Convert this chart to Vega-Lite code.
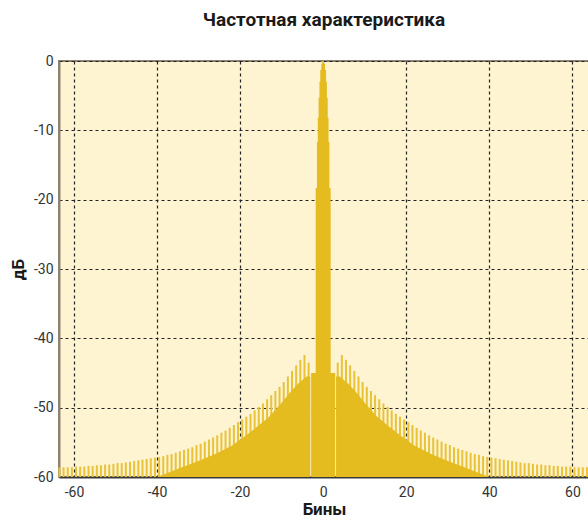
{
  "$schema": "https://vega.github.io/schema/vega-lite/v6.json",
  "width": 530,
  "height": 416,
  "autosize": "none",
  "padding": {"left": 59, "top": 61, "right": 0, "bottom": 44},
  "background": "white",
  "title": {
    "text": "Частотная характеристика",
    "font": "Roboto",
    "fontSize": 19,
    "fontWeight": "bold",
    "color": "#1a1a1a",
    "anchor": "middle",
    "offset": 24
  },
  "config": {
    "view": {"fill": "#FEF4D2", "stroke": "#8C8372", "strokeWidth": 2},
    "axis": {
      "labelFont": "Roboto",
      "titleFont": "Roboto",
      "labelFontSize": 14,
      "labelColor": "#333333",
      "titleFontSize": 17,
      "titleFontWeight": "bold",
      "titleColor": "#1a1a1a",
      "grid": true,
      "gridColor": "#222222",
      "gridDash": [3, 3],
      "gridWidth": 1.2,
      "gridOpacity": 1,
      "tickColor": "#2b2b2b",
      "tickSize": 0,
      "labelExpr": "datum.value < 0 ? '-' + abs(datum.value) : '' + datum.value"
    }
  },
  "datasets": {
    "spikes": [
      {"bin": -63.5, "db": -58.6}, {"bin": -62.5, "db": -58.6}, {"bin": -61.5, "db": -58.6}, {"bin": -60.5, "db": -58.6},
      {"bin": -59.5, "db": -58.5}, {"bin": -58.5, "db": -58.5}, {"bin": -57.5, "db": -58.5}, {"bin": -56.5, "db": -58.4},
      {"bin": -55.5, "db": -58.4}, {"bin": -54.5, "db": -58.3}, {"bin": -53.5, "db": -58.3}, {"bin": -52.5, "db": -58.2},
      {"bin": -51.5, "db": -58.2}, {"bin": -50.5, "db": -58.1}, {"bin": -49.5, "db": -58.0}, {"bin": -48.5, "db": -58.0},
      {"bin": -47.5, "db": -57.9}, {"bin": -46.5, "db": -57.8}, {"bin": -45.5, "db": -57.7}, {"bin": -44.5, "db": -57.6},
      {"bin": -43.5, "db": -57.5}, {"bin": -42.5, "db": -57.4}, {"bin": -41.5, "db": -57.3}, {"bin": -40.5, "db": -57.2},
      {"bin": -39.5, "db": -57.1}, {"bin": -38.5, "db": -57.0}, {"bin": -37.5, "db": -56.8}, {"bin": -36.5, "db": -56.7},
      {"bin": -35.5, "db": -56.5}, {"bin": -34.5, "db": -56.3}, {"bin": -33.5, "db": -56.1}, {"bin": -32.5, "db": -55.9},
      {"bin": -31.5, "db": -55.7}, {"bin": -30.5, "db": -55.4}, {"bin": -29.5, "db": -55.2}, {"bin": -28.5, "db": -54.9},
      {"bin": -27.5, "db": -54.6}, {"bin": -26.5, "db": -54.3}, {"bin": -25.5, "db": -54.0}, {"bin": -24.5, "db": -53.6},
      {"bin": -23.5, "db": -53.3}, {"bin": -22.5, "db": -52.9}, {"bin": -21.5, "db": -52.5}, {"bin": -20.5, "db": -52.1},
      {"bin": -19.5, "db": -51.7}, {"bin": -18.5, "db": -51.3}, {"bin": -17.5, "db": -50.9}, {"bin": -16.5, "db": -50.4},
      {"bin": -15.5, "db": -49.9}, {"bin": -14.5, "db": -49.4}, {"bin": -13.5, "db": -48.8}, {"bin": -12.5, "db": -48.2},
      {"bin": -11.5, "db": -47.6}, {"bin": -10.5, "db": -47.0}, {"bin": -9.5, "db": -46.3}, {"bin": -8.5, "db": -45.5},
      {"bin": -7.5, "db": -44.7}, {"bin": -6.5, "db": -43.9}, {"bin": -5.5, "db": -43.1}, {"bin": -4.5, "db": -42.4},
      {"bin": -3.5, "db": -43.5},
      {"bin": 3.5, "db": -43.5},
      {"bin": 4.5, "db": -42.4}, {"bin": 5.5, "db": -43.1}, {"bin": 6.5, "db": -43.9}, {"bin": 7.5, "db": -44.7},
      {"bin": 8.5, "db": -45.5}, {"bin": 9.5, "db": -46.3}, {"bin": 10.5, "db": -47.0}, {"bin": 11.5, "db": -47.6},
      {"bin": 12.5, "db": -48.2}, {"bin": 13.5, "db": -48.8}, {"bin": 14.5, "db": -49.4}, {"bin": 15.5, "db": -49.9},
      {"bin": 16.5, "db": -50.4}, {"bin": 17.5, "db": -50.9}, {"bin": 18.5, "db": -51.3}, {"bin": 19.5, "db": -51.7},
      {"bin": 20.5, "db": -52.1}, {"bin": 21.5, "db": -52.5}, {"bin": 22.5, "db": -52.9}, {"bin": 23.5, "db": -53.3},
      {"bin": 24.5, "db": -53.6}, {"bin": 25.5, "db": -54.0}, {"bin": 26.5, "db": -54.3}, {"bin": 27.5, "db": -54.6},
      {"bin": 28.5, "db": -54.9}, {"bin": 29.5, "db": -55.2}, {"bin": 30.5, "db": -55.4}, {"bin": 31.5, "db": -55.7},
      {"bin": 32.5, "db": -55.9}, {"bin": 33.5, "db": -56.1}, {"bin": 34.5, "db": -56.3}, {"bin": 35.5, "db": -56.5},
      {"bin": 36.5, "db": -56.7}, {"bin": 37.5, "db": -56.8}, {"bin": 38.5, "db": -57.0}, {"bin": 39.5, "db": -57.1},
      {"bin": 40.5, "db": -57.2}, {"bin": 41.5, "db": -57.3}, {"bin": 42.5, "db": -57.4}, {"bin": 43.5, "db": -57.5},
      {"bin": 44.5, "db": -57.6}, {"bin": 45.5, "db": -57.7}, {"bin": 46.5, "db": -57.8}, {"bin": 47.5, "db": -57.9},
      {"bin": 48.5, "db": -58.0}, {"bin": 49.5, "db": -58.0}, {"bin": 50.5, "db": -58.1}, {"bin": 51.5, "db": -58.2},
      {"bin": 52.5, "db": -58.2}, {"bin": 53.5, "db": -58.3}, {"bin": 54.5, "db": -58.3}, {"bin": 55.5, "db": -58.4},
      {"bin": 56.5, "db": -58.4}, {"bin": 57.5, "db": -58.5}, {"bin": 58.5, "db": -58.5}, {"bin": 59.5, "db": -58.5},
      {"bin": 60.5, "db": -58.6}, {"bin": 61.5, "db": -58.6}, {"bin": 62.5, "db": -58.6}, {"bin": 63.5, "db": -58.6}
    ],
    "floor": [
      {"bin": -40, "db": -60, "side": "L"}, {"bin": -37, "db": -59.3, "side": "L"}, {"bin": -34, "db": -58.6, "side": "L"},
      {"bin": -30, "db": -57.7, "side": "L"}, {"bin": -26, "db": -56.7, "side": "L"}, {"bin": -22, "db": -55.5, "side": "L"},
      {"bin": -19, "db": -54.2, "side": "L"}, {"bin": -16, "db": -52.8, "side": "L"}, {"bin": -13, "db": -51.3, "side": "L"},
      {"bin": -10, "db": -49.3, "side": "L"}, {"bin": -8, "db": -47.8, "side": "L"}, {"bin": -6, "db": -46.5, "side": "L"},
      {"bin": -4, "db": -45.5, "side": "L"}, {"bin": -3.1, "db": -45.5, "side": "L"},
      {"bin": 3.1, "db": -45.5, "side": "R"}, {"bin": 4, "db": -45.5, "side": "R"}, {"bin": 6, "db": -46.5, "side": "R"},
      {"bin": 8, "db": -47.8, "side": "R"}, {"bin": 10, "db": -49.3, "side": "R"}, {"bin": 13, "db": -51.3, "side": "R"},
      {"bin": 16, "db": -52.8, "side": "R"}, {"bin": 19, "db": -54.2, "side": "R"}, {"bin": 22, "db": -55.5, "side": "R"},
      {"bin": 26, "db": -56.7, "side": "R"}, {"bin": 30, "db": -57.7, "side": "R"}, {"bin": 34, "db": -58.6, "side": "R"},
      {"bin": 37, "db": -59.3, "side": "R"}, {"bin": 40, "db": -60, "side": "R"}
    ],
    "lobe": [
      {"from": -2.9, "to": 2.9, "db": -45},
      {"from": -1.8, "to": 1.8, "db": -18.3},
      {"from": -1.5, "to": 1.5, "db": -11.7},
      {"from": -1.3, "to": 1.3, "db": -8.2},
      {"from": -1.1, "to": 1.1, "db": -5.3},
      {"from": -0.9, "to": 0.9, "db": -3.0},
      {"from": -0.7, "to": 0.7, "db": -1.3},
      {"from": -0.45, "to": 0.45, "db": -0.4},
      {"from": -0.2, "to": 0.2, "db": 0}
    ]
  },
  "layer": [
    {
      "data": {"name": "spikes"},
      "mark": {"type": "rule", "color": "#E8C238", "strokeWidth": 2},
      "encoding": {
        "x": {
          "field": "bin", "type": "quantitative",
          "scale": {"domain": [-63.6, 64], "nice": false, "zero": false},
          "axis": {
            "values": [-60, -40, -20, 0, 20, 40, 60],
            "title": "Бины",
            "labelPadding": 8,
            "titlePadding": 2,
            "domainColor": "#3a3a3a",
            "domainWidth": 2
          }
        },
        "y": {
          "field": "db", "type": "quantitative",
          "scale": {"domain": [-60, 0], "nice": false},
          "axis": {
            "values": [0, -10, -20, -30, -40, -50, -60],
            "title": "дБ",
            "labelPadding": 6,
            "titlePadding": 6,
            "domainColor": "#8C8372",
            "domainWidth": 2
          }
        },
        "y2": {"datum": -60}
      }
    },
    {
      "data": {"name": "floor"},
      "mark": {"type": "area", "color": "#E5BC20", "opacity": 1},
      "encoding": {
        "x": {"field": "bin", "type": "quantitative"},
        "y": {"field": "db", "type": "quantitative"},
        "y2": {"datum": -60},
        "detail": {"field": "side"}
      }
    },
    {
      "data": {"name": "lobe"},
      "mark": {"type": "rect", "color": "#E5BC20"},
      "encoding": {
        "x": {"field": "from", "type": "quantitative"},
        "x2": {"field": "to"},
        "y": {"field": "db", "type": "quantitative"},
        "y2": {"datum": -60}
      }
    }
  ]
}
